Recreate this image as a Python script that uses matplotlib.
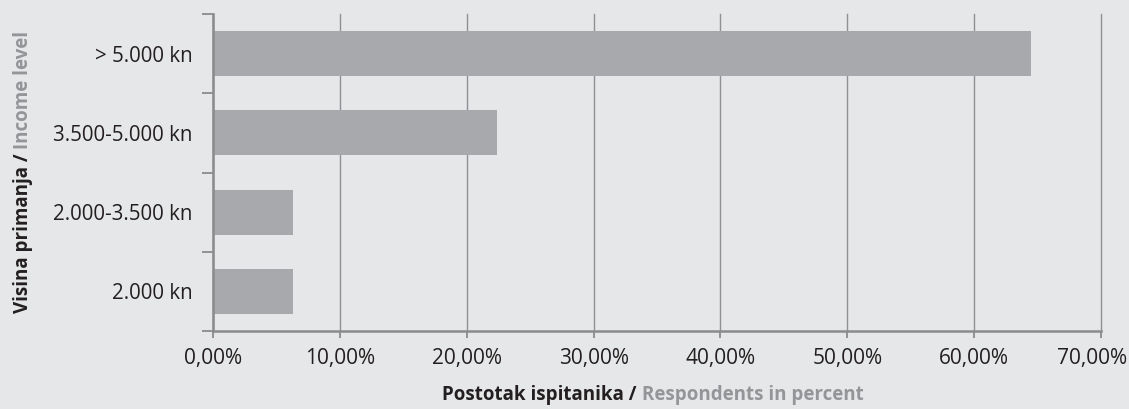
import matplotlib
matplotlib.use('Agg')
import matplotlib.pyplot as plt
import matplotlib.transforms as mtransforms
import numpy as np

matplotlib.rcParams['font.family'] = ['Open Sans', 'DejaVu Sans']

# data
categories = ["2.000 kn", "2.000-3.500 kn", "3.500-5.000 kn", "> 5.000 kn"]
values = [6.3, 6.3, 22.4, 64.5]
xticks = [0, 10, 20, 30, 40, 50, 60, 70]
xtick_labels = ["0,00%", "10,00%", "20,00%", "30,00%", "40,00%", "50,00%", "60,00%", "70,00%"]

bg = "#e6e7e8"
bar_color = "#a7a9ac"
dark = "#231f20"
grey = "#939598"
axis_grey = "#8a8b8d"

fig = plt.figure(figsize=(11.29, 4.09), dpi=100, facecolor=bg)
ax = fig.add_axes([213/1129, 1-331/409, (1101-213)/1129, (331-14)/409])
ax.set_facecolor(bg)

y = np.arange(len(categories))
ax.barh(y, values, height=0.57, color=bar_color, zorder=3)

ax.set_xlim(0, 70)
ax.set_ylim(-0.5, len(categories)-0.5)
ax.set_xticks(xticks)
ax.set_xticklabels(xtick_labels, fontsize=15, color=dark)
ax.tick_params(axis='x', length=5, width=1.3, color=axis_grey, pad=7)
# nudge last label so it stays inside the figure
last = ax.get_xticklabels()[-1]
last.set_transform(last.get_transform() +
                   mtransforms.ScaledTranslation(-9/100, 0, fig.dpi_scale_trans))

# category separators as major ticks, labels on minor ticks
ax.set_yticks(np.arange(-0.5, len(categories), 1.0))
ax.set_yticklabels([])
ax.set_yticks(y, minor=True)
ax.set_yticklabels(categories, minor=True, fontsize=14.8, color=dark)
ax.tick_params(axis='y', which='major', length=8, width=1.3, color=axis_grey)
ax.tick_params(axis='y', which='minor', length=0, pad=15)

ax.grid(axis='x', color="#8f9093", linewidth=1.0, zorder=0)
for gl in ax.get_xgridlines():
    gl.set_clip_on(False)
for s in ['top', 'right']:
    ax.spines[s].set_visible(False)
for s in ['left', 'bottom']:
    ax.spines[s].set_color(axis_grey)
    ax.spines[s].set_linewidth(1.8)
    ax.spines[s].set_zorder(4)

# two-colour axis titles
fig.canvas.draw()
r = fig.canvas.get_renderer()

xa = fig.text(0, 14/409, "Postotak ispitanika / ", fontsize=13.5, fontweight='bold',
              color=dark, ha='left', va='center')
xb = fig.text(0, 14/409, "Respondents in percent", fontsize=13.5, fontweight='bold',
              color=grey, ha='left', va='center')
wa = xa.get_window_extent(r).width
wb = xb.get_window_extent(r).width
x0 = 653 - (wa + wb) / 2
xa.set_x(x0/1129)
xb.set_x((x0 + wa)/1129)

ya = fig.text(23/1129, 0, "Visina primanja / ", fontsize=13.5, fontweight='bold',
              color=dark, rotation=90, ha='center', va='bottom')
yb = fig.text(23/1129, 0, "Income level", fontsize=13.5, fontweight='bold',
              color=grey, rotation=90, ha='center', va='bottom')
ha_ = ya.get_window_extent(r).height
hb_ = yb.get_window_extent(r).height
y0 = (409 - 172) - (ha_ + hb_) / 2
ya.set_y(y0/409)
yb.set_y((y0 + ha_)/409)

fig.savefig("out.png", dpi=100, facecolor=bg)
